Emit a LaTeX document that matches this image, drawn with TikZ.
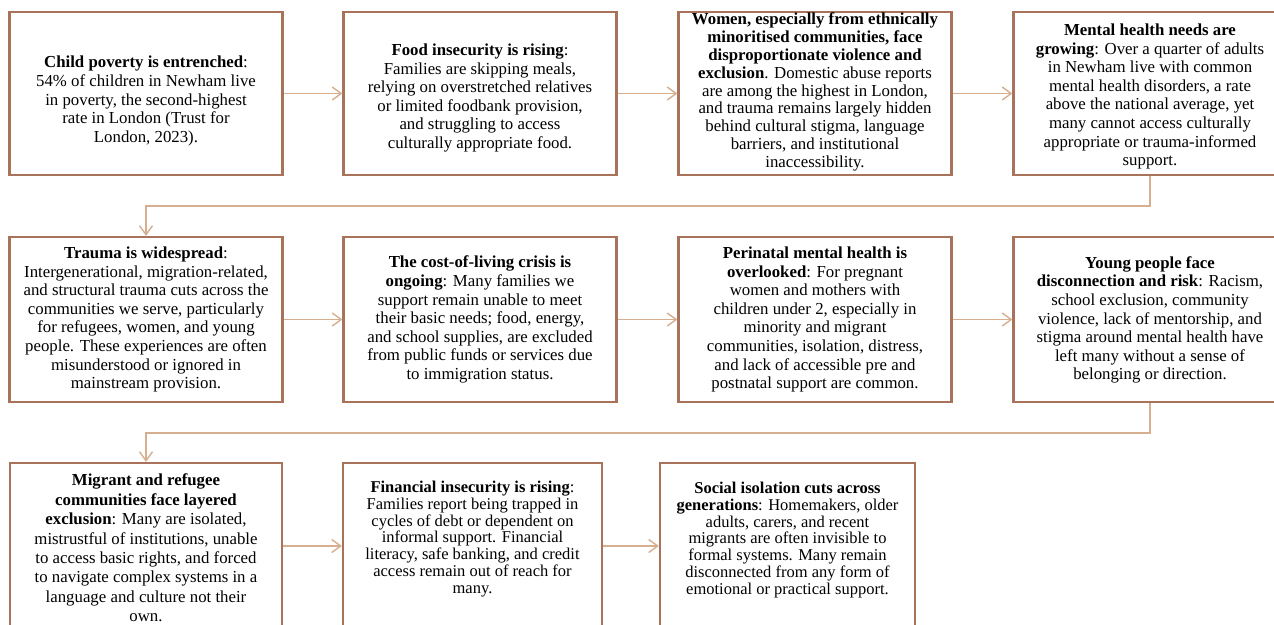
\documentclass[tikz,border=0pt]{standalone}
\usepackage{fontspec}
\setmainfont{Liberation Serif}
\usetikzlibrary{arrows.meta}
\definecolor{boxc}{HTML}{A8735A}
\definecolor{linec}{HTML}{D6AE90}
\tikzset{
  box/.style={draw=boxc, line width=2.2pt, fill=white, minimum width=273pt, minimum height=163pt, inner sep=0pt},
  rowtwo/.style={minimum height=165pt},
  rowthree/.style={minimum height=166pt},
  txt/.style={align=center, inner sep=0pt, font=\fontsize{16.8}{18.6}\selectfont},
  txtnine/.style={align=center, inner sep=0pt, font=\fontsize{16.8}{17.8}\selectfont},
  txtwide/.style={align=center, inner sep=0pt, font=\fontsize{16.8}{19.4}\selectfont},
  txtlow/.style={align=center, inner sep=0pt, font=\fontsize{16.5}{16.8}\selectfont},
  conn/.style={draw=linec, line width=1.4pt, -{Straight Barb[length=9pt,width=13pt,line width=1.4pt]}},
}
\begin{document}
\begin{tikzpicture}[x=1pt,y=-1pt]
\useasboundingbox (0,0) rectangle (1274,624);
\fill[white] (0,0) rectangle (1274,624);
\clip (0,0) rectangle (1274,624);

% row 1
\node[box] (b1) at (146,93.5) {};
\node[box] (b2) at (480,93.5) {};
\node[box] (b3) at (815,93.5) {};
\node[box] (b4) at (1150,93.5) {};
% row 2
\node[box,rowtwo] (b5) at (146,319.5) {};
\node[box,rowtwo] (b6) at (480,319.5) {};
\node[box,rowtwo] (b7) at (815,319.5) {};
\node[box,rowtwo] (b8) at (1150,319.5) {};
% row 3
\node[box,rowthree,minimum width=272pt] (b9) at (146,546) {};
\node[box,rowthree,minimum width=259pt] (b10) at (472.5,546) {};
\node[box,rowthree,minimum width=255pt] (b11) at (787.5,546) {};

% texts
\node[txt] (t1) at (146,101) {\textbf{Child poverty is entrenched}:\\
54\% of children in Newham live\\
in poverty, the second-highest\\
rate in London (Trust for\\
London, 2023).};
\node[txt] (t2) at (480,98) {\textbf{Food insecurity is rising}:\\
Families are skipping meals,\\
relying on overstretched relatives\\
or limited foodbank provision,\\
and struggling to access\\
culturally appropriate food.};
\node[txtnine] (t3) at (815,92) {\textbf{Women, especially from ethnically}\\
\textbf{minoritised communities, face}\\
\textbf{disproportionate violence and}\\
\textbf{exclusion}. Domestic abuse reports\\
are among the highest in London,\\
and trauma remains largely hidden\\
behind cultural stigma, language\\
barriers, and institutional\\
inaccessibility.};
\node[txt] (t4) at (1150,96.5) {\textbf{Mental health needs are}\\
\textbf{growing}: Over a quarter of adults\\
in Newham live with common\\
mental health disorders, a rate\\
above the national average, yet\\
many cannot access culturally\\
appropriate or trauma-informed\\
support.};

\node[txt] (t5) at (146,319.5) {\textbf{Trauma is widespread}:\\
Intergenerational, migration-related,\\
and structural trauma cuts across the\\
communities we serve, particularly\\
for refugees, women, and young\\
people. These experiences are often\\
misunderstood or ignored in\\
mainstream provision.};
\node[txt] (t6) at (480,319.5) {\textbf{The cost-of-living crisis is}\\
\textbf{ongoing}: Many families we\\
support remain unable to meet\\
their basic needs; food, energy,\\
and school supplies, are excluded\\
from public funds or services due\\
to immigration status.};
\node[txt] (t7) at (815,319.5) {\textbf{Perinatal mental health is}\\
\textbf{overlooked}: For pregnant\\
women and mothers with\\
children under 2, especially in\\
minority and migrant\\
communities, isolation, distress,\\
and lack of accessible pre and\\
postnatal support are common.};
\node[txt] (t8) at (1150,320) {\textbf{Young people face}\\
\textbf{disconnection and risk}: Racism,\\
school exclusion, community\\
violence, lack of mentorship, and\\
stigma around mental health have\\
left many without a sense of\\
belonging or direction.};

\node[txtwide] (t9) at (146,548) {\textbf{Migrant and refugee}\\
\textbf{communities face layered}\\
\textbf{exclusion}: Many are isolated,\\
mistrustful of institutions, unable\\
to access basic rights, and forced\\
to navigate complex systems in a\\
language and culture not their\\
own.};
\node[txtlow] (t10) at (472.5,539) {\textbf{Financial insecurity is rising}:\\
Families report being trapped in\\
cycles of debt or dependent on\\
informal support. Financial\\
literacy, safe banking, and credit\\
access remain out of reach for\\
many.};
\node[txtlow] (t11) at (787.5,540) {\textbf{Social isolation cuts across}\\
\textbf{generations}: Homemakers, older\\
adults, carers, and recent\\
migrants are often invisible to\\
formal systems. Many remain\\
disconnected from any form of\\
emotional or practical support.};

% connectors
\draw[conn] (b1.east) -- (b2.west);
\draw[conn] (b2.east) -- (b3.west);
\draw[conn] (b3.east) -- (b4.west);
\draw[conn] (b4.south) -- ++(0,30) -| (b5.north);
\draw[conn] (b5.east) -- (b6.west);
\draw[conn] (b6.east) -- (b7.west);
\draw[conn] (b7.east) -- (b8.west);
\draw[conn] (b8.south) -- ++(0,30) -| (b9.north);
\draw[conn] (b9.east) -- (b10.west);
\draw[conn] (b10.east) -- (b11.west);
\end{tikzpicture}
\end{document}
